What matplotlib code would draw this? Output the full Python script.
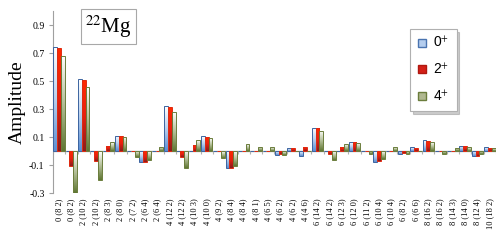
import matplotlib
matplotlib.use("Agg")
import matplotlib.pyplot as plt
import numpy as np
from matplotlib.colors import LinearSegmentedColormap
from matplotlib.lines import Line2D

plt.rcParams["font.family"] = ["Liberation Serif", "DejaVu Serif"]
plt.rcParams["mathtext.fontset"] = "stix"

labels = ["0 (8 2)", "0 (8 2)", "2 (10 2)", "2 (10 2)", "2 (8 3)", "2 (8 0)",
          "2 (7 2)", "2 (6 4)", "2 (6 4)", "4 (12 2)", "4 (12 2)", "4 (10 3)",
          "4 (10 0)", "4 (9 2)", "4 (8 4)", "4 (8 4)", "4 (8 1)", "4 (6 5)",
          "4 (6 2)", "4 (6 2)", "4 (4 6)", "6 (14 2)", "6 (14 2)", "6 (12 3)",
          "6 (12 0)", "6 (11 2)", "6 (10 4)", "6 (10 4)", "6 (8 2)", "6 (6 6)",
          "8 (16 2)", "8 (16 2)", "8 (14 3)", "8 (14 0)", "8 (12 4)", "10 (18 2)"]

amp_0 = [0.74, 0.0, 0.512, 0.0, 0.0, 0.11, 0.0, -0.081, 0.0, 0.321, 0.0, 0.0,
         0.105, 0.0, -0.124, 0.0, 0.0, 0.0, -0.029, 0.021, -0.036, 0.167, 0.0, 0.0,
         0.064, 0.0, -0.076, 0.0, -0.024, 0.026, 0.076, 0.0, 0.0, 0.036, -0.036, 0.026]
amp_2 = [0.733, -0.105, 0.505, -0.069, 0.036, 0.107, 0.0, -0.076, 0.0, 0.312, -0.04, 0.04,
         0.102, 0.0, -0.119, 0.0, 0.0, 0.0, -0.024, 0.019, 0.029, 0.162, -0.021, 0.026,
         0.062, 0.0, -0.071, 0.0, -0.017, 0.024, 0.071, 0.0, 0.0, 0.033, -0.033, 0.024]
amp_4 = [0.68, -0.30, 0.455, -0.207, 0.064, 0.102, -0.046, -0.064, 0.031, 0.276, -0.124, 0.076,
         0.09, -0.048, -0.105, 0.05, 0.031, 0.026, -0.027, 0.0, 0.0, 0.143, -0.062, 0.05,
         0.055, -0.024, -0.057, 0.026, -0.019, 0.0, 0.062, -0.024, 0.024, 0.026, -0.024, 0.021]

# name, values, gradient top -> bottom, edge colour
series = [
    ("0", amp_0, ["#ffffff", "#b9d0ee", "#5b8fd4"], "#3c64a0"),
    ("2", amp_2, ["#ff2a00", "#e82010", "#8a1c1c"], "#e02a10"),
    ("4", amp_4, ["#ffffff", "#b4bf98", "#5f7632"], "#6b7d3c"),
]

fig = plt.figure(figsize=(5.04, 2.52), dpi=100)
ax = fig.add_axes([0.105, 0.234, 0.879, 0.722])

x = np.arange(len(labels)) + 0.5
w = 0.31
grad = np.linspace(0, 1, 64).reshape(-1, 1)

for k, (name, vals, cols, edge) in enumerate(series):
    cmap = LinearSegmentedColormap.from_list(name, cols)
    bars = ax.bar(x + (k - 1) * w, vals, w, facecolor="none", edgecolor=edge,
                  linewidth=0.7, zorder=3)
    for b in bars:
        h = b.get_height()
        if h == 0:
            continue
        y0, y1 = sorted([b.get_y(), b.get_y() + h])
        im = ax.imshow(grad, extent=[b.get_x(), b.get_x() + w, y0, y1],
                       origin="upper", aspect="auto", cmap=cmap, zorder=2,
                       interpolation="bilinear")
        im.set_clip_path(b)

ax.set_xlim(0, len(labels))
ax.set_ylim(-0.3, 1.0)

ax.axhline(0, color="#b0b0b0", lw=1, zorder=1)
ax.vlines(np.arange(len(labels) + 1), -0.02, 0, color="#b0b0b0", lw=0.8, zorder=1)

ax.set_xticks(x)
ax.set_xticklabels(labels, rotation=90, fontsize=6)
ax.tick_params(axis="x", length=0, pad=4)
ax.set_yticks([-0.3, -0.1, 0.1, 0.3, 0.5, 0.7, 0.9])
ax.set_yticklabels(["-0.3", "-0.1", "0.1", "0.3", "0.5", "0.7", "0.9"])
ax.tick_params(axis="y", labelsize=7, length=3, color="#a0a0a0", pad=3)

for s in ["top", "right", "bottom"]:
    ax.spines[s].set_visible(False)
ax.spines["left"].set_color("#a0a0a0")

ax.set_ylabel("Amplitude", fontsize=14, labelpad=2)

ax.text(0.125, 0.915, r"$^{22}$Mg", transform=ax.transAxes, fontsize=15,
        ha="center", va="center",
        bbox=dict(boxstyle="square,pad=0.2", fc="white", ec="#a8a8a8", lw=0.8))

handles = [
    Line2D([], [], ls="none", marker="s", ms=6, mfc="#b4cdee", mec="#4a74b0"),
    Line2D([], [], ls="none", marker="s", ms=6, mfc="#d42018", mec="#b01810"),
    Line2D([], [], ls="none", marker="s", ms=6, mfc="#b0b890", mec="#6b7d3c"),
]
leg = ax.legend(handles, [r"0$^{+}$", r"2$^{+}$", r"4$^{+}$"],
                loc="upper left", bbox_to_anchor=(0.79, 0.94),
                prop={"family": "Liberation Sans", "size": 10},
                fancybox=False, shadow={"color": "0.5", "alpha": 0.4},
                edgecolor="#b0b0b0", framealpha=1, labelspacing=0.9,
                handlelength=0.8, handletextpad=0.4, borderpad=0.5)
leg.get_frame().set_linewidth(0.8)

fig.savefig("out.png", dpi=100)
